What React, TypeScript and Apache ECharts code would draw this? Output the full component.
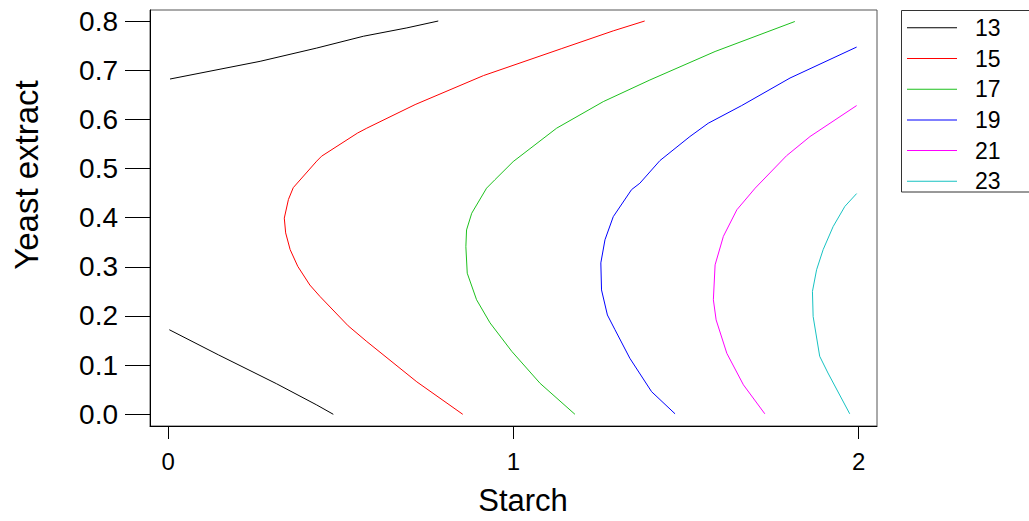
import React, { useEffect, useRef } from "react";
import * as echarts from "echarts";

const contourLevels = ["13", "15", "17", "19", "21", "23"];
const levelColors = ["#000000", "#FF0000", "#1DC01D", "#0000FF", "#FF00FF", "#17C2C2"];

const xTicks = [0, 1, 2];
const yTicks = [0, 0.1, 0.2, 0.3, 0.4, 0.5, 0.6, 0.7, 0.8];
const xTitle = "Starch";
const yTitle = "Yeast extract";

const c13Upper: [number, number][] = [
  [0.005, 0.682], [0.266, 0.718], [0.43, 0.745], [0.565, 0.769], [0.691, 0.786], [0.782, 0.8],
];
const c13Lower: [number, number][] = [
  [0.003, 0.172], [0.145, 0.121], [0.314, 0.062], [0.43, 0.019], [0.478, 0.0],
];
const c15: [number, number][] = [
  [0.853, 0.0], [0.72, 0.066], [0.575, 0.148], [0.521, 0.18], [0.439, 0.24], [0.41, 0.263],
  [0.375, 0.301], [0.353, 0.335], [0.34, 0.369], [0.336, 0.399], [0.348, 0.437], [0.362, 0.461],
  [0.43, 0.515], [0.444, 0.525], [0.548, 0.572], [0.575, 0.582], [0.715, 0.63], [0.913, 0.689],
  [1.14, 0.744], [1.289, 0.78], [1.38, 0.8],
];
const c17: [number, number][] = [
  [1.178, 0.0], [1.077, 0.063], [0.995, 0.128], [0.932, 0.186], [0.893, 0.233], [0.866, 0.287],
  [0.862, 0.341], [0.864, 0.375], [0.879, 0.409], [0.922, 0.46], [0.946, 0.477], [0.999, 0.514],
  [1.125, 0.582], [1.26, 0.636], [1.395, 0.68], [1.584, 0.738], [1.815, 0.799],
];
const c19: [number, number][] = [
  [1.468, 0.001], [1.4, 0.046], [1.337, 0.114], [1.294, 0.172], [1.272, 0.202], [1.255, 0.253],
  [1.253, 0.308], [1.265, 0.355], [1.289, 0.402], [1.342, 0.457], [1.366, 0.47], [1.424, 0.516],
  [1.511, 0.565], [1.564, 0.592], [1.661, 0.628], [1.801, 0.684], [1.994, 0.747],
];
const c21: [number, number][] = [
  [1.728, 0.001], [1.666, 0.06], [1.618, 0.124], [1.587, 0.192], [1.579, 0.233], [1.584, 0.304],
  [1.608, 0.362], [1.647, 0.416], [1.7, 0.46], [1.791, 0.526], [1.859, 0.565], [1.994, 0.628],
];
const c23: [number, number][] = [
  [1.974, 0.001], [1.911, 0.084], [1.887, 0.118], [1.868, 0.199], [1.866, 0.25], [1.878, 0.294],
  [1.897, 0.335], [1.926, 0.382], [1.96, 0.423], [1.994, 0.449],
];

const FONT = "'Liberation Sans', Arial, sans-serif";

export default function App() {
  const ref = useRef<HTMLDivElement>(null);
  useEffect(() => {
    if (!ref.current) return;
    const chart = echarts.init(ref.current, null, { renderer: "svg" });
    const lineSeries = (name: string, data: [number, number][], color: string) => ({
      type: "line",
      name,
      data,
      showSymbol: false,
      symbol: "none",
      color,
      lineStyle: { width: 1, color },
      silent: true,
    });
    const seriesData = [c13Upper, c15, c17, c19, c21, c23];
    const series: any[] = seriesData.map((d, i) => lineSeries(contourLevels[i], d, levelColors[i]));
    series.push(lineSeries(contourLevels[0], c13Lower, levelColors[0]));

    chart.setOption({
      animation: false,
      backgroundColor: "#ffffff",
      textStyle: { fontFamily: FONT },
      grid: {
        left: 150,
        top: 10,
        width: 727,
        height: 416,
        show: true,
        borderColor: "#555555",
        borderWidth: 1,
        backgroundColor: "transparent",
      },
      xAxis: {
        type: "value",
        min: -0.053,
        max: 2.053,
        axisLine: { show: true, onZero: false, lineStyle: { color: "#000", width: 1 } },
        axisTick: { show: true, customValues: xTicks, length: 13, lineStyle: { color: "#000" } },
        axisLabel: {
          customValues: xTicks,
          fontSize: 24,
          color: "#000",
          margin: 23,
          fontFamily: FONT,
          formatter: (v: number) => String(v),
        },
        splitLine: { show: false },
      },
      yAxis: {
        type: "value",
        min: -0.0238,
        max: 0.8224,
        axisLine: { show: true, onZero: false, lineStyle: { color: "#000", width: 1 } },
        axisTick: { show: true, customValues: yTicks, length: 25, lineStyle: { color: "#000" } },
        axisLabel: {
          customValues: yTicks,
          fontSize: 28,
          color: "#000",
          margin: 32,
          fontFamily: FONT,
          formatter: (v: number) => v.toFixed(1),
        },
        splitLine: { show: false },
      },
      legend: {
        orient: "vertical",
        left: 902,
        top: 11.3,
        data: contourLevels,
        icon: "rect",
        itemWidth: 50,
        itemHeight: 1,
        itemGap: 7.7,
        selectedMode: false,
        textStyle: { fontSize: 23, lineHeight: 22, color: "#000", fontFamily: FONT, padding: [0, 0, 0, 13] },
      },
      graphic: [
        {
          type: "rect",
          shape: { x: 901.5, y: 10.5, width: 200, height: 181.5 },
          style: { fill: "none", stroke: "#333333", lineWidth: 1 },
          silent: true,
        },
        {
          type: "text",
          x: 523,
          y: 500,
          style: { text: xTitle, fontSize: 31, fill: "#000", fontFamily: FONT, align: "center", verticalAlign: "middle" },
          silent: true,
        },
        {
          type: "text",
          x: 26,
          y: 175,
          rotation: Math.PI / 2,
          style: { text: yTitle, fontSize: 33, fill: "#000", fontFamily: FONT, align: "center", verticalAlign: "middle" },
          silent: true,
        },
      ],
      series,
    });
    return () => chart.dispose();
  }, []);
  return <div ref={ref} style={{ position: "absolute", left: 0, top: 0, width: 1029, height: 521 }} />;
}
